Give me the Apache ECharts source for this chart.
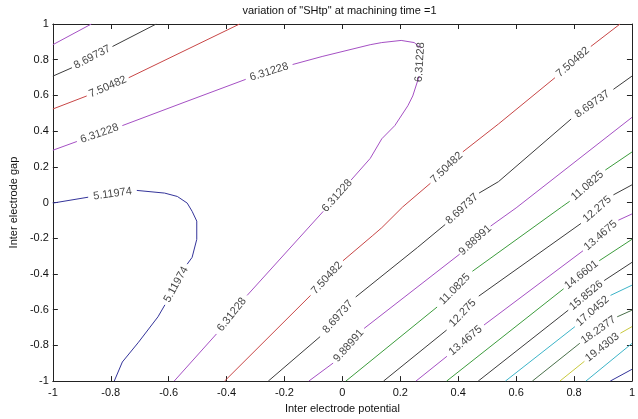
<!DOCTYPE html>
<html><head><meta charset="utf-8">
<script src="https://cdn.jsdelivr.net/npm/echarts@6/dist/echarts.min.js"></script>
<style>html,body{margin:0;padding:0;background:#fff}#c{width:638px;height:419px}</style>
</head><body><div id="c"></div>
<script>
// ---------- data ----------
const titleText = 'variation of "SHtp" at machining time =1';
const xName = 'Inter electrode potential';
const yName = 'Inter electrode gap';
const xTicks = [-1, -0.8, -0.6, -0.4, -0.2, 0, 0.2, 0.4, 0.6, 0.8, 1];
const yTicks = [-1, -0.8, -0.6, -0.4, -0.2, 0, 0.2, 0.4, 0.6, 0.8, 1];
const levels = ['5.11974','6.31228','7.50482','8.69737','9.88991','11.0825','12.275',
                '13.4675','14.6601','15.8526','17.0452','18.2377','19.4303','20.6229','21.8154'];

// each contour: list of branches; each branch: list of runs; a label sits in each gap between runs
const contour_5_11974 = [[
  [[-1,-0.003],[-0.878,0.030]],
  [[-0.710,0.068],[-0.614,0.053],[-0.570,0.034],[-0.536,-0.003],[-0.519,-0.049],[-0.503,-0.104],[-0.503,-0.206],[-0.519,-0.307],[-0.536,-0.345]],
  [[-0.613,-0.573],[-0.637,-0.640],[-0.704,-0.782],[-0.760,-0.893],[-0.788,-1]]
]];
const contour_6_31228 = [[
  [[-1,0.293],[-0.917,0.342]],
  [[-0.760,0.431],[-0.547,0.561],[-0.334,0.690]],
  [[-0.172,0.773],[-0.070,0.818],[0.096,0.884],[0.136,0.896],[0.203,0.908],[0.248,0.896],[0.271,0.865]],
  [[0.265,0.708],[0.243,0.597],[0.226,0.542],[0.181,0.431],[0.136,0.357],[0.096,0.247],[0.030,0.126]],
  [[-0.066,-0.049],[-0.329,-0.520]],
  [[-0.435,-0.736],[-0.581,-1]]
]];
const contour_7_50482 = [
  [
    [[-1,0.524],[-0.883,0.597]],
    [[-0.738,0.699],[-0.355,1]]
  ],
  [
    [[-0.407,-1],[-0.110,-0.520]],
    [[0.002,-0.326],[0.103,-0.187],[0.136,-0.141],[0.208,-0.025],[0.304,0.108]],
    [[0.416,0.284],[0.539,0.440],[0.734,0.699]],
    [[0.858,0.874],[0.959,1]]
  ]
];
const contour_8_69737 = [
  [
    [[-1,0.708],[-0.934,0.755]],
    [[-0.794,0.874],[-0.643,1]]
  ],
  [
    [[-0.256,-1],[-0.077,-0.751]],
    [[0.046,-0.529],[0.259,-0.252],[0.355,-0.123]],
    [[0.472,0.053],[0.539,0.117],[0.790,0.468]],
    [[0.936,0.634],[1,0.708]]
  ]
];
const contour_9_88991 = [
  [
    [[-1,0.884],[-0.867,1]]
  ],
  [
    [[-0.116,-1],[-0.032,-0.899]],
    [[0.075,-0.705],[0.405,-0.289]],
    [[0.512,-0.132],[0.600,-0.030],[1,0.477]]
  ]
];
const contour_11_0825 = [[
  [[0.012,-1],[0.327,-0.585]],
  [[0.449,-0.385],[0.757,-0.025],[0.785,0.007]],
  [[0.908,0.182],[1,0.283]]
]];
const contour_12_275 = [[
  [[0.142,-1],[0.360,-0.714]],
  [[0.471,-0.524],[0.824,-0.117]],
  [[0.936,0.043],[1,0.099]]
]];
const contour_13_4675 = [[
  [[0.254,-1],[0.361,-0.861]],
  [[0.489,-0.686],[0.831,-0.270]],
  [[0.953,-0.099],[1,-0.064]]
]];
const contour_14_6601 = [[
  [[0.360,-1],[0.764,-0.483]],
  [[0.887,-0.326],[1,-0.206]]
]];
const contour_15_8526 = [[
  [[0.469,-1],[0.780,-0.603]],
  [[0.904,-0.437],[1,-0.335]]
]];
const contour_17_0452 = [[
  [[0.563,-1],[0.803,-0.695]],
  [[0.926,-0.520],[1,-0.463]]
]];
const contour_18_2377 = [[
  [[0.656,-1],[0.820,-0.788]],
  [[0.949,-0.640],[1,-0.603]]
]];
const contour_19_4303 = [[
  [[0.751,-1],[0.836,-0.889]],
  [[0.960,-0.732],[1,-0.695]]
]];
const contour_20_6229 = [[
  [[0.841,-1],[1,-0.789]]
]];
const contour_21_8154 = [[
  [[0.925,-1],[1,-0.934]]
]];

const contours = [contour_5_11974, contour_6_31228, contour_7_50482, contour_8_69737, contour_9_88991,
  contour_11_0825, contour_12_275, contour_13_4675, contour_14_6601, contour_15_8526,
  contour_17_0452, contour_18_2377, contour_19_4303, contour_20_6229, contour_21_8154];

// ---------- styles ----------
const lineColors = ['#34349a','#a550c4','#c84646','#3c3c3c','#a550c4','#3c9c3c','#3c3c3c',
  '#a550c4','#3c9c3c','#3c3c3c','#3cb4c8','#4a704a','#c8c83c','#3cb4c8','#34349a'];
const FONT = "'Liberation Sans Narrow','Liberation Sans',Arial,sans-serif";
const AX = '#222';

const chart = echarts.init(document.getElementById('c'), null, {renderer:'canvas'});

const series = [];
contours.forEach((branches, i) => {
  branches.forEach(branch => {
    branch.forEach(run => {
      series.push({
        type:'line', data: run, showSymbol:false, symbol:'none', silent:true,
        animation:false, z:2, clip:true,
        lineStyle:{color: lineColors[i], width:1}, itemStyle:{color: lineColors[i]}
      });
    });
  });
});

function axisCommon(pos, showLabel) {
  return {
    type:'value', min:-1, max:1, interval:0.2, position:pos,
    axisLine:{show:true, onZero:false, lineStyle:{color:AX, width:1}},
    axisTick:{show:true, inside:true, length:5, lineStyle:{color:AX}},
    splitLine:{show:false},
    axisLabel:{show:showLabel, color:'#111', fontSize:11, fontFamily:FONT},
    axisPointer:{show:false}
  };
}
const xBottom = Object.assign(axisCommon('bottom', true), {
  name:xName, nameLocation:'middle', nameGap:20,
  nameTextStyle:{color:'#111', fontSize:11, fontFamily:FONT}
});
xBottom.axisLabel.margin = 6;
xBottom.axisLabel.formatter = v => String(xTicks.find(t => Math.abs(t - v) < 1e-9) ?? v);
const xTop = axisCommon('top', false);
const yLeft = Object.assign(axisCommon('left', true), {
  name:yName, nameLocation:'middle', nameGap:26,
  nameTextStyle:{color:'#111', fontSize:11, fontFamily:FONT}
});
yLeft.axisLabel.margin = 4;
yLeft.axisLabel.formatter = v => String(yTicks.find(t => Math.abs(t - v) < 1e-9) ?? v);
const yRight = axisCommon('right', false);

const option = {
  animation:false,
  backgroundColor:'#fff',
  title:{text:titleText, left:339.5, top:5, textAlign:'center', padding:0,
    textStyle:{fontSize:11, fontWeight:'normal', color:'#111', fontFamily:FONT}},
  grid:{left:42, right:1, top:24, bottom:34, containLabel:false},
  xAxis:[xBottom, xTop],
  yAxis:[yLeft, yRight],
  series: series
};
chart.setOption(option);

// labels: placed in each gap between runs, rotated along the gap direction
const labelData = [];
contours.forEach((branches, i) => {
  branches.forEach(branch => {
    for (let k = 0; k < branch.length - 1; k++) {
      const a = branch[k][branch[k].length - 1];
      const b = branch[k + 1][0];
      const pa = chart.convertToPixel({gridIndex:0}, a);
      const pb = chart.convertToPixel({gridIndex:0}, b);
      let ang = Math.atan2(-(pb[1] - pa[1]), pb[0] - pa[0]) * 180 / Math.PI;
      if (ang > 90) ang -= 180;
      if (ang <= -90) ang += 180;
      labelData.push({name: levels[i], value:[(a[0] + b[0]) / 2, (a[1] + b[1]) / 2], label:{rotate: ang}});
    }
  });
});
series.push({
  type:'scatter', data: labelData, symbol:'circle', symbolSize:1, silent:true, z:5,
  itemStyle:{color:'transparent'},
  label:{show:true, position:'inside', formatter: p => p.name, color:'#111',
    fontSize:11, fontFamily:FONT, align:'center', verticalAlign:'middle'}
});
chart.setOption({series: series});
</script>
</body></html>
